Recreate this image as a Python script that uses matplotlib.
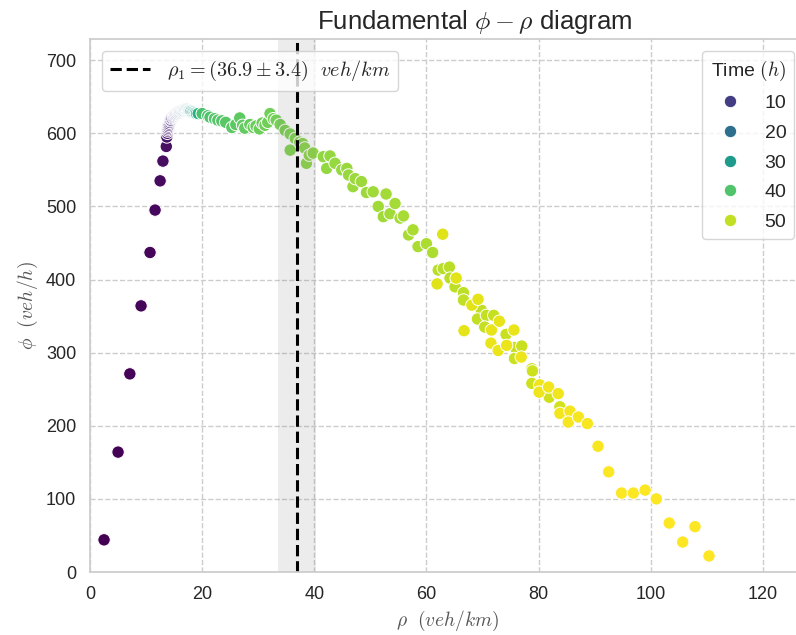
import numpy as np
import matplotlib
matplotlib.use("Agg")
import matplotlib.pyplot as plt
import seaborn as sns
from matplotlib.lines import Line2D

# free-flow build-up (density rising from an empty road)
rise_rho = [2.5, 5.0, 7.1, 9.1, 10.7, 11.6, 12.5, 13.0, 13.6, 13.7]
rise_phi = [44, 164, 271, 364, 437, 495, 535, 562, 582, 595]
rise_t = [0.25, 0.5, 0.75, 1.0, 1.25, 1.5, 1.75, 2.0, 2.5, 3.0]

# capacity plateau, many samples on top of each other
peak_rho = [13.8, 13.85, 13.9, 13.95, 14.0, 14.05, 14.1, 14.2, 14.3, 14.4, 14.5, 14.6,
            14.8, 14.9, 15.0, 15.1, 15.2, 15.3, 15.4, 15.5, 15.6, 15.7, 15.8, 15.9,
            16.0, 16.1, 16.2, 16.3, 16.4, 16.5, 16.6, 16.7, 16.8, 16.9, 17.0, 17.1,
            17.2, 17.3, 17.4, 17.5, 17.6, 17.7, 17.8, 17.9, 18.0, 18.2, 18.4, 18.6,
            18.8, 19.0, 19.3]
peak_phi = [600, 603, 605, 607, 609, 611, 613, 615, 617, 618, 620, 621,
            622, 623, 624, 625, 625, 626, 626, 627, 627, 628, 628, 629,
            629, 629, 630, 630, 630, 631, 631, 631, 632, 632, 632, 632,
            632, 632, 631, 631, 631, 631, 630, 630, 630, 629, 629, 628,
            628, 627, 627]
peak_t = [3.3, 3.6, 3.9, 4.2, 4.5, 4.8, 5.2, 5.6, 6.0, 6.5, 7.0, 7.5,
          8.0, 8.6, 9.2, 9.8, 10.4, 11.0, 11.6, 12.2, 12.8, 13.4, 14.0, 14.6,
          15.2, 15.8, 16.4, 17.0, 17.6, 18.2, 18.8, 19.4, 20.0, 20.7, 21.4, 22.1,
          22.8, 23.5, 24.2, 24.9, 25.6, 26.3, 27.0, 27.8, 28.6, 29.4, 30.2, 31.0,
          32.0, 33.0, 34.5]

# slow drift along the top of the diagram
flat_rho = [20.0, 21.0, 21.4, 22.2, 22.8, 23.5, 24.2, 25.3, 26.0, 26.7, 27.2, 27.6,
            28.5, 29.1, 29.6, 30.2, 30.7, 31.2, 31.7, 32.1, 32.7, 33.2, 33.9]
flat_phi = [627, 624, 622, 620, 618, 617, 615, 608, 612, 621, 611, 607,
            612, 608, 610, 606, 614, 611, 615, 627, 620, 618, 612]
flat_t = [39.2, 39.5, 39.8, 40.1, 40.4, 40.6, 40.8, 41.0, 41.2, 41.4, 41.6, 41.8,
          42.0, 42.2, 42.4, 42.6, 42.8, 43.0, 43.1, 43.2, 43.3, 43.4, 43.5]

# congested branch, first pass
jam_rho = [34.8, 35.7, 36.6, 35.7, 37.4, 37.9, 38.3, 38.6, 39.1, 39.8, 41.6, 42.2,
           42.8, 43.7, 44.9, 45.8, 46.1, 46.9, 47.3, 48.4, 49.3, 50.5, 51.4, 52.3,
           52.8, 53.5, 54.4, 55.3, 55.9, 56.8, 57.6, 58.5, 60.0, 61.1]
jam_phi = [604, 599, 593, 577, 588, 586, 580, 559, 570, 573, 568, 552,
           569, 559, 550, 552, 543, 527, 538, 534, 519, 520, 500, 486,
           517, 490, 504, 484, 487, 461, 468, 445, 449, 437]
jam_t = [44.0, 44.2, 44.4, 44.6, 44.8, 45.0, 45.2, 45.4, 45.6, 45.8, 46.0, 46.1,
         46.2, 46.3, 46.4, 46.5, 46.6, 46.7, 46.8, 46.9, 47.0, 47.1, 47.2, 47.3,
         47.4, 47.5, 47.6, 47.7, 47.8, 47.9, 48.0, 48.1, 48.2, 48.3]

# congested branch, second pass
late_rho = [62.1, 63.0, 64.1, 64.2, 65.1, 66.6, 66.6, 69.8, 69.1, 70.7, 72.0, 70.4,
            74.2, 75.8, 77.0, 75.7, 78.8, 78.9, 78.8, 81.9, 83.8]
late_phi = [413, 415, 417, 402, 390, 382, 372, 358, 346, 351, 351, 335,
            325, 307, 309, 292, 278, 275, 258, 239, 226]
late_t = [49.1, 49.2, 49.3, 49.4, 49.5, 49.6, 49.7, 49.8, 49.9, 50.0, 50.1, 50.2,
          50.3, 50.4, 50.5, 50.6, 50.7, 50.8, 50.9, 51.0, 51.2]

# last hours, road emptying at high density
end_rho = [62.9, 61.9, 65.3, 68.1, 69.2, 66.7, 71.6, 73.0, 75.6, 71.5, 72.8, 74.3,
           76.9, 80.2, 80.1, 81.8, 83.5, 83.8, 85.6, 85.3, 87.1, 88.7, 90.6, 92.5,
           94.8, 96.9, 99.0, 101.0, 103.3, 107.9, 105.7, 110.4]
end_phi = [462, 394, 402, 365, 373, 330, 331, 343, 331, 313, 303, 310,
           294, 256, 246, 253, 244, 217, 220, 205, 212, 203, 172, 137,
           108, 108, 112, 100, 67, 62, 41, 22]
end_t = [52.3, 52.4, 52.5, 52.6, 52.7, 52.8, 52.9, 53.0, 53.1, 53.2, 53.3, 53.4,
         53.5, 53.6, 53.7, 53.8, 53.9, 54.0, 54.1, 54.2, 54.3, 54.4, 54.5, 54.6,
         54.65, 54.7, 54.75, 54.8, 54.85, 54.9, 54.95, 55.0]

rho = np.array(rise_rho + peak_rho + flat_rho + jam_rho + late_rho + end_rho)
phi = np.array(rise_phi + peak_phi + flat_phi + jam_phi + late_phi + end_phi)
hours = np.array(rise_t + peak_t + flat_t + jam_t + late_t + end_t)

rho_crit = 36.9
rho_crit_err = 3.4

sns.set_theme(style="whitegrid")
plt.rcParams["font.family"] = ["Liberation Sans", "DejaVu Sans"]
plt.rcParams["mathtext.fontset"] = "cm"
plt.rcParams["grid.linestyle"] = "--"

fig = plt.figure(figsize=(7.96, 6.35), dpi=100)
# right edge of the axes runs slightly past the figure border
ax = fig.add_axes([0.1131, 0.0992, 0.8995, 0.8394])

sns.scatterplot(x=rho, y=phi, hue=hours, palette="viridis", s=80,
                edgecolor="white", linewidth=0.7, ax=ax, legend="brief")
handles, labels = ax.get_legend_handles_labels()

ax.axvspan(rho_crit - rho_crit_err, rho_crit + rho_crit_err, color="gray",
           alpha=0.15, lw=0)
ax.axvline(rho_crit, color="black", ls="--", lw=2.2)

ax.set_xlim(0, 127.7)
ax.set_ylim(0, 729)
ax.set_xticks(np.arange(0, 121, 20))
ax.set_yticks(np.arange(0, 701, 100))
ax.tick_params(labelsize=13, pad=4)

ax.set_xlabel(r"$\rho\ \ (veh/km)$", fontsize=14, color="#555555")
ax.set_ylabel(r"$\phi\ \ (veh/h)$", fontsize=14, color="#555555")
ax.set_title(r"Fundamental $\phi - \rho$ diagram", fontsize=18.5, pad=7,
             x=0.538)

time_leg = ax.legend(handles, labels, title=r"Time $(h)$", loc="upper right",
                     fontsize=14, title_fontsize=14, borderaxespad=0.6,
                     labelspacing=0.62)
ax.add_artist(time_leg)
ax.legend([Line2D([0], [0], color="black", ls="--", lw=2.2)],
          [r"$\rho_1 = (36.9 \pm 3.4)\ \ veh/km$"], loc="upper left",
          fontsize=14.5, borderaxespad=0.6)

fig.savefig("out.png", dpi=100)
